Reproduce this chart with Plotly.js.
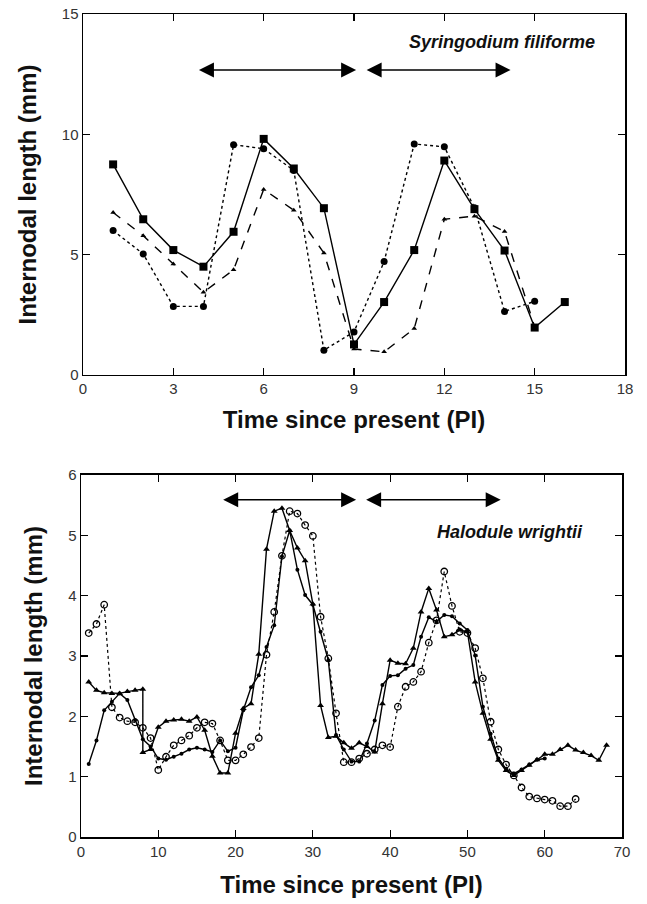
<!DOCTYPE html>
<html>
<head>
<meta charset="utf-8">
<script src="https://cdn.plot.ly/plotly-3.0.1.min.js"></script>
<style>html,body{margin:0;padding:0;background:#fff;}#chart{width:647px;height:904px;}</style>
</head>
<body>
<div id="chart"></div>
<script>
// ---------- Top panel: Syringodium filiforme ----------
const synX = [1,2,3,4,5,6,7,8,9,10,11,12,13,14,15,16];
const synSquares = [8.75,6.47,5.19,4.5,5.95,9.81,8.58,6.93,1.27,3.03,5.19,8.91,6.89,5.17,1.97,3.03];
const synCirclesX = [1,2,3,4,5,6,7,8,9,10,11,12,13,14,15];
const synCircles = [6.0,5.03,2.85,2.85,9.57,9.4,8.5,1.03,1.79,4.71,9.6,9.48,6.95,2.64,3.06];
const synTrianglesX = [1,2,3,4,5,6,7,8,9,10,11,12,13,14,15];
const synTriangles = [6.75,5.79,4.61,3.44,4.37,7.71,6.85,5.07,1.08,0.96,1.93,6.47,6.6,5.96,2.0];

// ---------- Bottom panel: Halodule wrightii ----------
const halDotsX = [1,2,3,4,5,6,7,8,9,10,11,12,13,14,15,16,17,18,19,20,
                  21,22,23,24,25,26,27,28,29,30,31,32,33,34,35,36,37,38,39,40,
                  41,42,43,44,45,46,47,48,49,50,51,52,53,54,55,56,57,58,59,60];
const halDots = [1.21,1.60,2.10,2.24,2.38,2.27,1.94,1.62,1.50,1.30,
                 1.28,1.33,1.38,1.45,1.48,1.45,1.41,1.60,1.42,1.48,
                 2.10,2.48,2.68,3.15,3.51,4.65,5.08,4.43,4.01,3.85,
                 3.40,2.93,1.69,1.45,1.25,1.25,1.55,1.93,2.52,2.67,
                 2.68,2.79,2.85,3.32,3.64,3.57,3.68,3.66,3.54,3.43,
                 3.01,2.16,1.71,1.30,1.13,1.05,1.12,1.20,1.28,1.30];

const halTriX = [1,2,3,4,5,6,7,8,8,9,10,11,12,13,14,15,16,17,18,19,20,
                 21,22,23,24,25,26,27,28,29,30,31,32,33,34,35,36,37,38,39,40,
                 41,42,43,44,45,46,47,48,49,50,51,52,53,54,55,56,57,58,59,60,
                 61,62,63,64,65,66,67,68];
const halTri = [2.57,2.43,2.39,2.38,2.38,2.41,2.43,2.45,1.40,1.45,1.82,1.92,1.94,1.95,1.92,1.99,1.77,1.34,1.06,1.06,1.72,
                2.13,2.21,3.03,4.77,5.40,5.45,5.08,4.79,4.58,3.86,2.18,1.65,1.67,1.56,1.47,1.56,1.50,1.41,2.21,2.93,
                2.88,2.87,3.13,3.73,4.12,3.76,3.32,3.35,3.43,3.40,2.57,2.05,1.62,1.27,1.10,1.02,1.10,1.19,1.28,1.37,
                1.37,1.45,1.52,1.44,1.40,1.35,1.27,1.52];

const halOpenX = [1,2,3,4,5,6,7,8,9,10,11,12,13,14,15,16,17,18,19,20,
                  21,22,23,24,25,26,27,28,29,30,31,32,33,34,35,36,37,38,39,40,
                  41,42,43,44,45,46,47,48,49,50,51,52,53,54,55,56,57,58,59,60,
                  61,62,63,64];
const halOpen = [3.38,3.53,3.85,2.15,1.98,1.92,1.90,1.81,1.64,1.11,
                 1.33,1.52,1.60,1.68,1.81,1.90,1.88,1.60,1.27,1.27,
                 1.37,1.49,1.64,3.02,3.73,4.66,5.40,5.36,5.17,4.99,
                 3.65,2.96,2.05,1.24,1.24,1.30,1.38,1.45,1.52,1.49,
                 2.16,2.49,2.57,2.74,3.22,3.59,4.40,3.83,3.40,3.38,
                 3.13,2.63,1.91,1.45,1.20,1.02,0.82,0.67,0.64,0.62,
                 0.60,0.51,0.51,0.63];

// tick labels
const topXTicks = [0,3,6,9,12,15,18];
const topYTicks = [0,5,10,15];
const botXTicks = [0,10,20,30,40,50,60,70];
const botYTicks = [0,1,2,3,4,5,6];

const FONT = 'Liberation Sans, Arial, Helvetica, sans-serif';
const K = '#000';

const traces = [
  {x: synX, y: synSquares, xaxis:'x', yaxis:'y', mode:'lines+markers', type:'scatter',
   line:{color:K, width:1.4}, marker:{symbol:'square', size:8, color:K}},
  {x: synCirclesX, y: synCircles, xaxis:'x', yaxis:'y', mode:'lines+markers', type:'scatter',
   line:{color:K, width:1.4, dash:'dot'}, marker:{symbol:'circle', size:7, color:K}},
  {x: synTrianglesX, y: synTriangles, xaxis:'x', yaxis:'y', mode:'lines+markers', type:'scatter',
   line:{color:K, width:1.4, dash:'dash'}, marker:{symbol:'triangle-up', size:5, color:K}},

  {x: halOpenX, y: halOpen, xaxis:'x2', yaxis:'y2', mode:'lines+markers', type:'scatter',
   line:{color:K, width:1.2, dash:'dot'}, marker:{symbol:'circle-open', size:6.5, color:K, line:{width:1.3, color:K}}},
  {x: halDotsX, y: halDots, xaxis:'x2', yaxis:'y2', mode:'lines+markers', type:'scatter',
   line:{color:K, width:1.4}, marker:{symbol:'circle', size:4, color:K}},
  {x: halTriX, y: halTri, xaxis:'x2', yaxis:'y2', mode:'lines+markers', type:'scatter',
   line:{color:K, width:1.4}, marker:{symbol:'triangle-up', size:6, color:K}}
];

function axisBase() {
  return {
    showline:true, linecolor:K, linewidth:1.5, mirror:'ticks',
    ticks:'inside', ticklen:7, tickwidth:1.2, tickcolor:K,
    showgrid:false, zeroline:false, fixedrange:true,
    tickfont:{family:FONT, size:15, color:'#333'}
  };
}

const titleFont = {family:FONT, size:24, color:'#111', weight:'bold'};

const layout = {
  width:647, height:904,
  margin:{l:81, r:22, t:14, b:67},
  paper_bgcolor:'#fff', plot_bgcolor:'#fff',
  showlegend:false,
  xaxis: Object.assign(axisBase(), {
    domain:[0.0037, 1], range:[0,18], anchor:'y', tickvals: topXTicks,
    title:{text:'Time since present (PI)', font:titleFont, standoff:14}
  }),
  yaxis: Object.assign(axisBase(), {
    domain:[0.5614, 1], range:[0,15], anchor:'x', tickvals: topYTicks,
    title:{text:'Internodal length (mm)', font:titleFont, standoff:18}
  }),
  xaxis2: Object.assign(axisBase(), {
    domain:[0, 0.9945], range:[0,70], anchor:'y2', tickvals: botXTicks,
    title:{text:'Time since present (PI)', font:titleFont, standoff:17}
  }),
  yaxis2: Object.assign(axisBase(), {
    domain:[0, 0.4399], range:[0,6], anchor:'x2', tickvals: botYTicks,
    title:{text:'Internodal length (mm)', font:titleFont, standoff:18}
  }),
  annotations: [
    {xref:'x', yref:'y', axref:'x', ayref:'y', x:9.07, y:12.67, ax:3.8, ay:12.67, text:'',
     showarrow:true, arrowside:'end+start', arrowhead:2, startarrowhead:2, arrowsize:2, startarrowsize:2,
     arrowwidth:1.5, arrowcolor:K},
    {xref:'x', yref:'y', axref:'x', ayref:'y', x:14.2, y:12.67, ax:9.37, ay:12.67, text:'',
     showarrow:true, arrowside:'end+start', arrowhead:2, startarrowhead:2, arrowsize:2, startarrowsize:2,
     arrowwidth:1.5, arrowcolor:K},
    {xref:'x2', yref:'y2', axref:'x2', ayref:'y2', x:35.6, y:5.59, ax:18.2, ay:5.59, text:'',
     showarrow:true, arrowside:'end+start', arrowhead:2, startarrowhead:2, arrowsize:2, startarrowsize:2,
     arrowwidth:1.5, arrowcolor:K},
    {xref:'x2', yref:'y2', axref:'x2', ayref:'y2', x:54.3, y:5.59, ax:36.7, ay:5.59, text:'',
     showarrow:true, arrowside:'end+start', arrowhead:2, startarrowhead:2, arrowsize:2, startarrowsize:2,
     arrowwidth:1.5, arrowcolor:K},
    {xref:'x', yref:'y', x:17.07, y:13.83, xanchor:'right', yanchor:'middle', showarrow:false,
     text:'<b><i>Syringodium filiforme</i></b>', font:{family:FONT, size:18, color:'#111'}},
    {xref:'x2', yref:'y2', x:65.2, y:5.05, xanchor:'right', yanchor:'middle', showarrow:false,
     text:'<b><i>Halodule wrightii</i></b>', font:{family:FONT, size:18, color:'#111'}}
  ]
};

Plotly.newPlot('chart', traces, layout, {staticPlot:true, displayModeBar:false});
</script>
</body>
</html>
